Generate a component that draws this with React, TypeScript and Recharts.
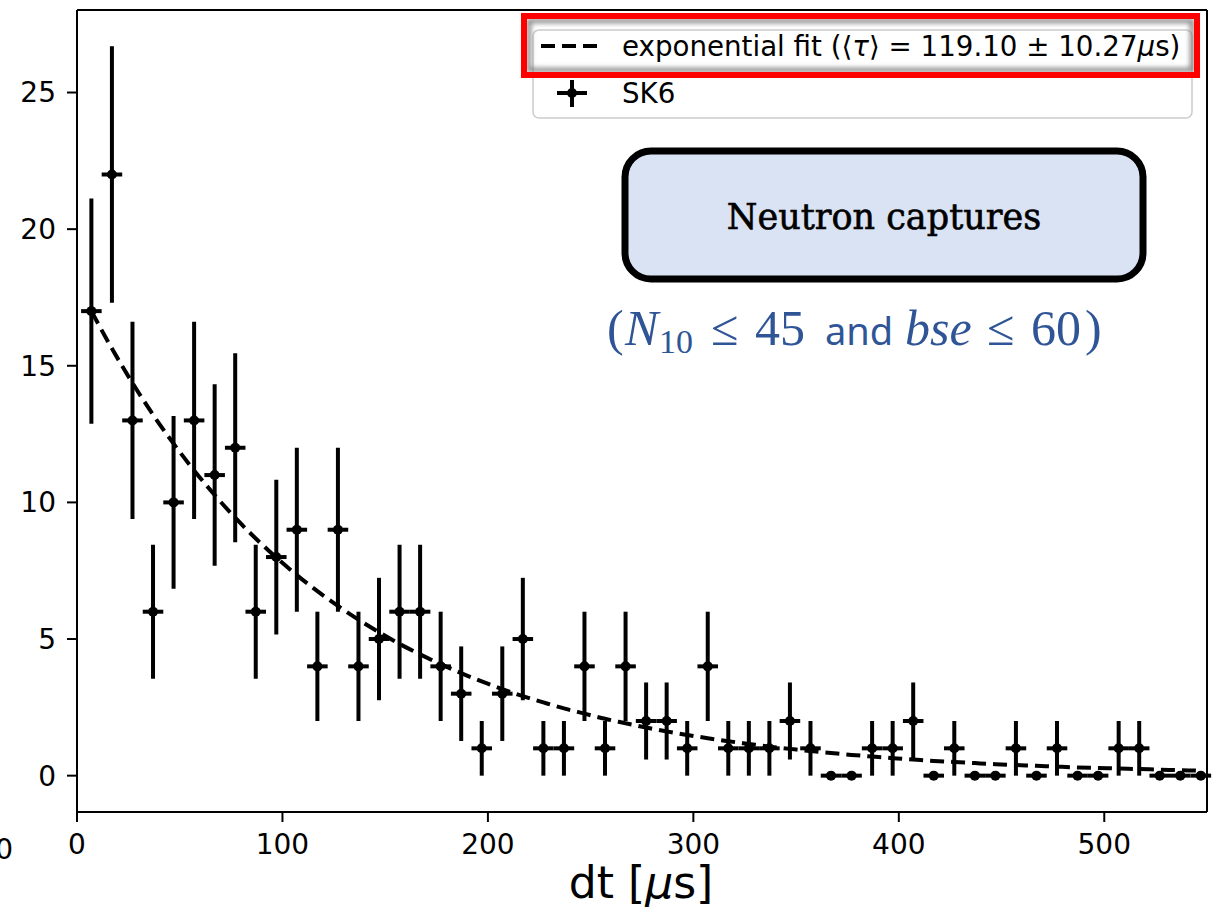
import React from "react";
import { ComposedChart, Scatter, Line, XAxis, YAxis, ErrorBar, ReferenceLine } from "recharts";

// bin centres (dt, μs) and counts
const BIN_CENTERS = [
  7, 17, 27, 37, 47, 57, 67, 77, 87, 97,
  107, 117, 127, 137, 147, 157, 167, 177, 187, 197,
  207, 217, 227, 237, 247, 257, 267, 277, 287, 297,
  307, 317, 327, 337, 347, 357, 367, 377, 387, 397,
  407, 417, 427, 437, 447, 457, 467, 477, 487, 497,
  507, 517, 527, 537, 547,
];
const COUNTS = [
  17, 22, 13, 6, 10, 13, 11, 12, 6, 8,
  9, 4, 9, 4, 5, 6, 6, 4, 3, 1,
  3, 5, 1, 1, 4, 1, 4, 2, 2, 1,
  4, 1, 1, 1, 2, 1, 0, 0, 1, 1,
  2, 0, 1, 0, 0, 1, 0, 1, 0, 0,
  1, 1, 0, 0, 0,
];
const COUNT_ERR = [
  4.12, 4.69, 3.61, 2.45, 3.16, 3.61, 3.32, 3.46, 2.45, 2.83,
  3, 2, 3, 2, 2.24, 2.45, 2.45, 2, 1.73, 1,
  1.73, 2.24, 1, 1, 2, 1, 2, 1.41, 1.41, 1,
  2, 1, 1, 1, 1.41, 1, 0, 0, 1, 1,
  1.41, 0, 1, 0, 0, 1, 0, 1, 0, 0,
  1, 1, 0, 0, 0,
];
const BIN_HALF_WIDTH = 5;

// dashed fit curve, sampled at the bin centres
const FIT_VALUES = [
  17.0, 15.63, 14.37, 13.21, 12.15, 11.17, 10.27, 9.44, 8.68, 7.98,
  7.34, 6.75, 6.21, 5.71, 5.25, 4.82, 4.44, 4.08, 3.75, 3.45,
  3.17, 2.91, 2.68, 2.46, 2.27, 2.08, 1.92, 1.76, 1.62, 1.49,
  1.37, 1.26, 1.16, 1.06, 0.98, 0.9, 0.83, 0.76, 0.7, 0.64,
  0.59, 0.54, 0.5, 0.46, 0.42, 0.39, 0.36, 0.33, 0.3, 0.28,
  0.26, 0.24, 0.22, 0.2, 0.18,
];

const X_TICKS = [0, 100, 200, 300, 400, 500];
const Y_TICKS = [0, 5, 10, 15, 20, 25];
const X_DOMAIN = [0, 550];
const Y_DOMAIN = [-1.33, 28.02];

const points = BIN_CENTERS.map((x, i) => ({ x, y: COUNTS[i], ey: COUNT_ERR[i], ex: BIN_HALF_WIDTH }));
const fit = BIN_CENTERS.map((x, i) => ({ x, fit: FIT_VALUES[i] }));

const SANS = "'DejaVu Sans', sans-serif";
const SERIF = "'DejaVu Serif', serif";
const MATH = "'Liberation Serif', serif";
const BLUE = "#2f5597";
const TICK = { fill: "#000", fontSize: 28, fontFamily: SANS };
const AX = { stroke: "#000", strokeWidth: 2 };

const Dot = (p: any) => <circle cx={p.cx} cy={p.cy} r={5} fill="#000" />;

function Overlay() {
  return (
    <svg width={1219} height={915} style={{ position: "absolute", left: 0, top: 0, pointerEvents: "none" }}>
      <defs>
        <filter id="blur" x="-5%" y="-20%" width="110%" height="140%">
          <feGaussianBlur stdDeviation="2.5" />
        </filter>
      </defs>

      {/* legend */}
      <rect x={533} y={30} width={659} height={88} rx={6} fill="#fff" fillOpacity={0.85} stroke="#cccccc" strokeWidth={1.5} />
      <line x1={541} y1={46} x2={601} y2={46} stroke="#000" strokeWidth={4} strokeDasharray="14 7" />
      <text x={622} y={56} fontSize={27.7} fontFamily={SANS} fill="#000">
        exponential fit (⟨<tspan fontStyle="italic">τ</tspan>⟩ = 119.10 ± 10.27<tspan fontStyle="italic">μ</tspan>s)
      </text>
      <line x1={572} y1={80} x2={572} y2={107} stroke="#000" strokeWidth={4} />
      <line x1={557} y1={93} x2={587} y2={93} stroke="#000" strokeWidth={4} />
      <circle cx={572} cy={93} r={5} fill="#000" />
      <text x={622} y={103} fontSize={27.7} fontFamily={SANS} fill="#000">SK6</text>

      {/* highlight around the fit entry */}
      <rect x={529} y={21} width={663} height={49} fill="none" stroke="#7a7a7a" strokeWidth={4} filter="url(#blur)" />
      <rect x={524} y={16} width={673} height={59} fill="none" stroke="#ff0000" strokeWidth={6} />

      {/* annotation box */}
      <rect x={625} y={151} width={518} height={128} rx={26} fill="#dae3f3" stroke="#000" strokeWidth={7} />
      <text x={884} y={229} textAnchor="middle" fontSize={35} fontFamily={SERIF} fill="#000" stroke="#000" strokeWidth={0.6}>
        Neutron captures
      </text>
      <text y={345} fontSize={50} fontFamily={MATH} fill={BLUE}>
        <tspan x={607}>(</tspan>
        <tspan x={625} fontStyle="italic">N</tspan>
        <tspan x={659} y={353} fontSize={34}>10</tspan>
        <tspan x={711} y={345}>≤</tspan>
        <tspan x={755}>45</tspan>
        <tspan x={825} fontSize={38} fontFamily="'Noto Sans', sans-serif">and</tspan>
        <tspan x={905} fontStyle="italic">bse</tspan>
        <tspan x={987}>≤</tspan>
        <tspan x={1031}>60</tspan>
        <tspan x={1085}>)</tspan>
      </text>

      {/* axis title */}
      <text x={641} y={898} textAnchor="middle" fontSize={44} fontFamily={SANS} fill="#000">
        dt [<tspan fontStyle="italic">μ</tspan>s]
      </text>
      <text x={13} y={859} textAnchor="end" fontSize={28} fontFamily={SANS} fill="#000">0</text>
    </svg>
  );
}

export default function App() {
  return (
    <div style={{ position: "absolute", left: 0, top: 0, width: 1219, height: 915, background: "#fff", overflow: "hidden" }}>
      <ComposedChart width={1219} height={915} margin={{ top: 10, right: 12, bottom: 0, left: 0 }}>
        <XAxis type="number" dataKey="x" domain={X_DOMAIN} ticks={X_TICKS} allowDataOverflow
          height={103} tickSize={10} tickMargin={12} tick={TICK} axisLine={AX} tickLine={AX} />
        <YAxis type="number" domain={Y_DOMAIN} ticks={Y_TICKS} allowDataOverflow
          width={77} tickSize={10} tickMargin={11} tick={TICK} axisLine={AX} tickLine={AX} />
        <ReferenceLine x={550} stroke="#000" strokeWidth={2} />
        <ReferenceLine y={28.02} stroke="#000" strokeWidth={2} />
        <Line data={fit} dataKey="fit" type="monotone" stroke="#000" strokeWidth={4}
          strokeDasharray="14 7" dot={false} activeDot={false} isAnimationActive={false} />
        <Scatter data={points} dataKey="y" fill="#000" shape={Dot} isAnimationActive={false}>
          <ErrorBar dataKey="ey" direction="y" width={0} stroke="#000" strokeWidth={4} />
          <ErrorBar dataKey="ex" direction="x" width={0} stroke="#000" strokeWidth={4} />
        </Scatter>
      </ComposedChart>
      <Overlay />
    </div>
  );
}
